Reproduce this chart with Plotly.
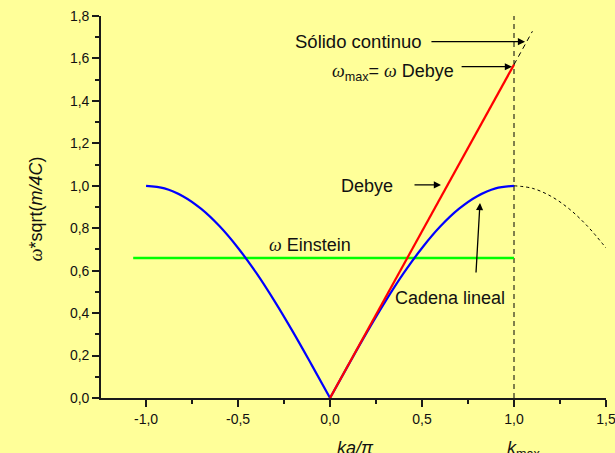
import plotly.graph_objects as go

# ---- data ----
k_chain = [-1.0, -0.9, -0.8, -0.7, -0.6, -0.5, -0.4, -0.3, -0.2, -0.1, 0.0,
           0.1, 0.2, 0.3, 0.4, 0.5, 0.6, 0.7, 0.8, 0.9, 1.0]
w_chain = [1.0, 0.988, 0.951, 0.891, 0.809, 0.707, 0.588, 0.454, 0.309, 0.156, 0.0,
           0.156, 0.309, 0.454, 0.588, 0.707, 0.809, 0.891, 0.951, 0.988, 1.0]
k_chain_ext = [1.0, 1.1, 1.2, 1.3, 1.4, 1.5]
w_chain_ext = [1.0, 0.988, 0.951, 0.891, 0.809, 0.707]
k_debye = [0.0, 1.0]
w_debye = [0.0, 1.571]
k_solid = [1.0, 1.1]
w_solid = [1.571, 1.728]
k_einstein = [-1.07, 1.0]
w_einstein = [0.66, 0.66]
k_max = [1.0, 1.0]
w_kmax = [0.0, 1.8]

x_ticks = [-1.0, -0.5, 0.0, 0.5, 1.0, 1.5]
x_labels = ["-1,0", "-0,5", "0,0", "0,5", "1,0", "1,5"]
y_ticks = [0.0, 0.2, 0.4, 0.6, 0.8, 1.0, 1.2, 1.4, 1.6, 1.8]
y_labels = ["0,0", "0,2", "0,4", "0,6", "0,8", "1,0", "1,2", "1,4", "1,6", "1,8"]

BG = "#FFFF99"
AX = "#1a1a1a"
SANS = "Liberation Sans, Arial, sans-serif"
SERIF = "Liberation Serif, Times New Roman, serif"

fig = go.Figure()
i0 = k_chain.index(0.0)
fig.add_trace(go.Scatter(x=k_max, y=w_kmax, mode="lines",
                         line=dict(color="black", width=1, dash="5px,4px"), hoverinfo="skip"))
fig.add_trace(go.Scatter(x=k_chain_ext, y=w_chain_ext, mode="lines",
                         line=dict(color="black", width=1, dash="3px,3px", shape="spline"), hoverinfo="skip"))
fig.add_trace(go.Scatter(x=k_solid, y=w_solid, mode="lines",
                         line=dict(color="black", width=1, dash="5px,4px"), hoverinfo="skip"))
fig.add_trace(go.Scatter(x=k_einstein, y=w_einstein, mode="lines",
                         line=dict(color="#00FF00", width=2.5)))
fig.add_trace(go.Scatter(x=k_chain[:i0 + 1], y=w_chain[:i0 + 1], mode="lines",
                         line=dict(color="#0000FF", width=2.2, shape="spline")))
fig.add_trace(go.Scatter(x=k_chain[i0:], y=w_chain[i0:], mode="lines",
                         line=dict(color="#0000FF", width=2.2, shape="spline")))
fig.add_trace(go.Scatter(x=k_debye, y=w_debye, mode="lines",
                         line=dict(color="#FF0000", width=2.2)))

omega = f"<span style='font-family:{SERIF}'><i>ω</i></span>"

ann = []
def txt(x, y, text, size=18, xanchor="center", xref="x", yref="y", angle=0):
    ann.append(dict(x=x, y=y, xref=xref, yref=yref, text=text, showarrow=False,
                    font=dict(family=SANS, size=size, color="#111"),
                    xanchor=xanchor, yanchor="middle", textangle=angle))

def arrow(x0, y0, x1, y1):
    ann.append(dict(x=x1, y=y1, ax=x0, ay=y0, xref="x", yref="y", axref="x", ayref="y",
                    text="", showarrow=True, arrowhead=2, arrowsize=1.1, arrowwidth=1.3,
                    arrowcolor="black", standoff=0, startstandoff=0))

txt(0.152, 1.679, "Sólido continuo", size=18.5)
arrow(0.543, 1.679, 1.06, 1.679)
txt(0.0, 1.535, omega + "<sub>max</sub>= " + omega + " Debye", xanchor="left")
arrow(0.707, 1.561, 0.989, 1.561)
txt(0.2, 0.998, "Debye")
arrow(0.451, 1.004, 0.603, 1.004)
txt(-0.34, 0.72, omega + " Einstein", xanchor="left")
txt(0.65, 0.472, "Cadena lineal")
arrow(0.793, 0.584, 0.815, 0.919)

# axis titles
txt(0.14, -0.13, "<i>ka/π</i>", size=18, yref="paper")
txt(0.95, -0.135, "<i>k</i><sub>max</sub>", size=18, xanchor="left", yref="paper")
txt(-0.128, 0.495, omega + "*sqrt(<i>m/4C</i>)", size=18, xref="paper", yref="paper", angle=-90)

axis_common = dict(showgrid=False, zeroline=False, showline=True, linecolor=AX, linewidth=1.6,
                   ticks="outside", ticklen=7, tickwidth=1.6, tickcolor=AX,
                   tickfont=dict(family=SANS, size=14, color="#111"),
                   ticklabeloverflow="allow", automargin=False,
                   minor=dict(ticks="outside", ticklen=4, tickwidth=1.6, tickcolor=AX))

fig.update_layout(
    width=615, height=453,
    paper_bgcolor=BG, plot_bgcolor=BG,
    margin=dict(l=101, r=9, t=16, b=55),
    showlegend=False,
    xaxis=dict(range=[-1.245, 1.5], tickvals=x_ticks, ticktext=x_labels, **axis_common),
    yaxis=dict(range=[0, 1.8], tickvals=y_ticks, ticktext=y_labels, **axis_common),
    annotations=ann,
)
fig.update_xaxes(minor=dict(dtick=0.25, tick0=0))
fig.update_yaxes(minor=dict(dtick=0.1, tick0=0))

fig.write_html("out.html", config={"displayModeBar": False},
               post_script="document.body.style.margin='0px';document.body.style.background='#FFFF99';")
